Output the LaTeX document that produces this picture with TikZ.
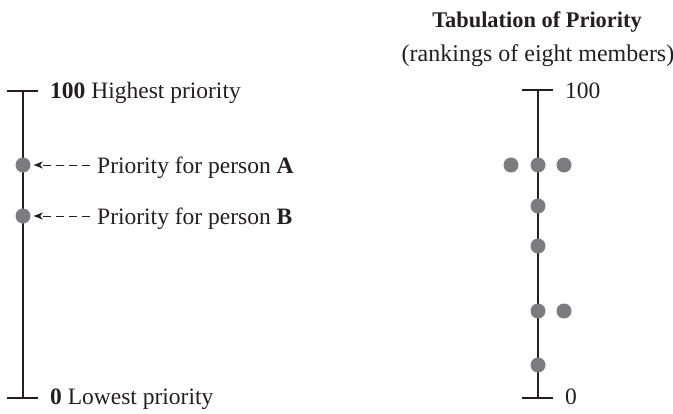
\documentclass[tikz,border=0pt]{standalone}
\usepackage{fontspec}
\setmainfont{Liberation Serif}
\usetikzlibrary{arrows.meta}
\definecolor{axisc}{HTML}{231F20}
\definecolor{dotc}{HTML}{7C7C7F}
\tikzset{
  axisline/.style={draw=axisc, line width=2pt},
  tickline/.style={draw=axisc, line width=1.4pt},
  dot/.style={circle, fill=dotc, minimum size=15pt, inner sep=0pt},
  lbl/.style={anchor=base west, inner sep=0pt, text=axisc, font=\fontsize{23.5}{28}\selectfont},
  ttl/.style={anchor=base, inner sep=0pt, text=axisc},
  pointer/.style={draw=axisc, line width=1pt, dash pattern=on 8pt off 5pt, shorten >=3pt, -{Stealth[length=9pt,width=7pt,inset=2.5pt]}}
}
\begin{document}
\begin{tikzpicture}[x=1pt,y=-1pt]
\useasboundingbox (0,0) rectangle (673,413);
% left axis
\coordinate (Ltop) at (23,91);
\coordinate (Lbot) at (23,398);
\draw[axisline] (Ltop) -- (Lbot);
\coordinate (Ltl) at (7,91); \coordinate (Ltr) at (38,91);
\coordinate (Lbl) at (7,398); \coordinate (Lbr) at (38,398);
\draw[tickline] (Ltl) -- (Ltr);
\draw[tickline] (Lbl) -- (Lbr);
\node[lbl] (hi) at (50,98) {\textbf{100} Highest priority};
\node[lbl] (lo) at (50,404) {\textbf{0} Lowest priority};
\node[dot] (dA) at (23,165) {};
\node[dot] (dB) at (23,216) {};
\node[lbl] (tA) at (97,173) {Priority for person \textbf{A}};
\node[lbl] (tB) at (97,224) {Priority for person \textbf{B}};
\coordinate (sA) at (90,165);
\coordinate (sB) at (90,216);
\draw[pointer] (sA) -- (dA.east);
\draw[pointer] (sB) -- (dB.east);
% right axis
\coordinate (Rtop) at (538,90);
\coordinate (Rbot) at (538,398);
\draw[axisline] (Rtop) -- (Rbot);
\coordinate (Rtl) at (522,90); \coordinate (Rtr) at (553,90);
\coordinate (Rbl) at (522,398); \coordinate (Rbr) at (553,398);
\draw[tickline] (Rtl) -- (Rtr);
\draw[tickline] (Rbl) -- (Rbr);
\node[lbl] (rhi) at (565,98) {100};
\node[lbl] (rlo) at (565,404) {0};
\node[ttl, font=\fontsize{22.4}{27}\selectfont\bfseries] (title) at (537,27) {Tabulation of Priority};
\node[ttl, font=\fontsize{24}{28}\selectfont] (sub) at (538,61) {(rankings of eight members)};
\node[dot] (r1) at (511,165) {};
\node[dot] (r2) at (538,165) {};
\node[dot] (r3) at (564,165) {};
\node[dot] (r4) at (538,206) {};
\node[dot] (r5) at (538,246) {};
\node[dot] (r6) at (538,311) {};
\node[dot] (r7) at (564,311) {};
\node[dot] (r8) at (538,365) {};
\end{tikzpicture}
\end{document}
